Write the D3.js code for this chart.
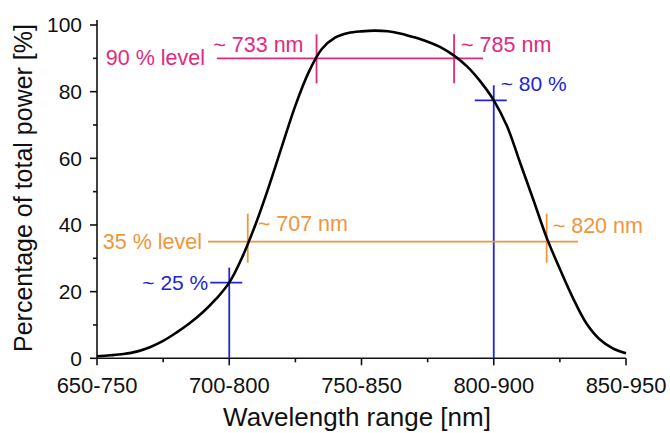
<!DOCTYPE html>
<html>
<head>
<meta charset="utf-8">
<script src="https://cdn.jsdelivr.net/npm/d3@7"></script>
<style>
  html, body { margin: 0; padding: 0; background: #fff; }
  svg { display: block; font-family: "Liberation Sans", Arial, Helvetica, sans-serif; }
</style>
</head>
<body>
<svg id="chart" width="670" height="433"></svg>
<script>
// Start wavelength of each 100 nm window [nm]
const wavelengthStart = [650, 655, 660, 665, 670, 675, 680, 685, 690, 695,
  700, 705, 710, 715, 720, 725, 730, 735, 740, 745,
  750, 755, 760, 765, 770, 775, 780, 785, 790, 795,
  800, 805, 810, 815, 820, 825, 830, 835, 840, 845, 850];
// Share of total power inside that window [%]
const powerPercent = [0.6, 0.9, 1.3, 2.0, 3.3, 5.2, 7.7, 10.5, 13.8, 17.8,
  22.7, 30.5, 40.3, 51.6, 63.8, 75.8, 85.8, 92.8, 96.2, 97.6,
  98.1, 98.3, 98.1, 97.4, 96.3, 95.0, 93.3, 90.8, 87.5, 83.0,
  77.4, 69.7, 58.6, 47.5, 36.2, 26.8, 18.0, 10.5, 5.7, 3.0, 1.5];

// Axis ticks
const xTickValues = [650, 700, 750, 800, 850];
const xTickLabels = ["650-750", "700-800", "750-850", "800-900", "850-950"];
const xMinorTicks = [675, 725, 775, 825];
const yTickValues = [0, 20, 40, 60, 80, 100];
const yMinorTicks = [10, 30, 50, 70, 90];

// Threshold levels and the window starts where the curve crosses them
const levelNames = ["90 % level", "35 % level"];
const levelValues = [90, 35];
const levelLeftNm = [733, 707];
const levelRightNm = [785, 820];
const levelColors = ["#e3287e", "#f0953b"];

// Windows whose share is marked
const markNm = [700, 800];
const markLabels = ["~ 25 %", "~ 80 %"];
const markColor = "#2424d8";

const svg = d3.select("#chart");
const x = d3.scaleLinear().domain([650, 850]).range([97, 626]);
const y = d3.scaleLinear().domain([0, 101.5]).range([358.3, 20]);

const FS = 21.5;

// Axes
const xAxis = svg.append("g").attr("transform", `translate(0,${y(0)})`);
xAxis.append("line").attr("x1", x(650)).attr("x2", x(850)).attr("stroke", "#111").attr("stroke-width", 1.6);
xAxis.selectAll(".maj").data(xTickValues).join("line")
  .attr("x1", d => x(d)).attr("x2", d => x(d)).attr("y1", 0).attr("y2", 7)
  .attr("stroke", "#111").attr("stroke-width", 1.6);
xAxis.selectAll(".min").data(xMinorTicks).join("line")
  .attr("x1", d => x(d)).attr("x2", d => x(d)).attr("y1", 0).attr("y2", 4)
  .attr("stroke", "#111").attr("stroke-width", 1.6);
xAxis.selectAll("text").data(xTickValues).join("text")
  .attr("x", d => x(d)).attr("y", 35).attr("text-anchor", "middle")
  .attr("font-size", 22).attr("fill", "#111")
  .text((d, i) => xTickLabels[i]);

const yAxis = svg.append("g").attr("transform", `translate(${x(650)},0)`);
yAxis.append("line").attr("y1", y(0)).attr("y2", y(101.5)).attr("stroke", "#111").attr("stroke-width", 1.6);
yAxis.selectAll(".maj").data(yTickValues).join("line")
  .attr("y1", d => y(d)).attr("y2", d => y(d)).attr("x1", 0).attr("x2", -7)
  .attr("stroke", "#111").attr("stroke-width", 1.6);
yAxis.selectAll(".min").data(yMinorTicks).join("line")
  .attr("y1", d => y(d)).attr("y2", d => y(d)).attr("x1", 0).attr("x2", -4)
  .attr("stroke", "#111").attr("stroke-width", 1.6);
yAxis.selectAll("text").data(yTickValues).join("text")
  .attr("x", -15).attr("y", d => y(d) + 7.5).attr("text-anchor", "end")
  .attr("font-size", 21).attr("fill", "#111")
  .text(d => d);

// Axis titles
svg.append("text").attr("x", 357).attr("y", 426).attr("text-anchor", "middle")
  .attr("font-size", 26).attr("fill", "#111").text("Wavelength range [nm]");
svg.append("text").attr("transform", "translate(32,188) rotate(-90)").attr("text-anchor", "middle")
  .attr("font-size", 25).attr("fill", "#111").text("Percentage of total power [%]");

// Marked windows (blue)
markNm.forEach((nm, i) => {
  const v = powerPercent[wavelengthStart.indexOf(nm)];
  const g = svg.append("g").attr("stroke", markColor).attr("stroke-width", 1.8);
  g.append("line").attr("x1", x(nm)).attr("x2", x(nm)).attr("y1", y(0)).attr("y2", y(v) - 15);
  g.append("line").attr("x1", x(nm) - 19).attr("x2", x(nm) + 13).attr("y1", y(v)).attr("y2", y(v));
});
svg.append("text").attr("x", x(700) - 21).attr("y", y(powerPercent[wavelengthStart.indexOf(700)]) + 7)
  .attr("text-anchor", "end").attr("font-size", 21).attr("fill", markColor).text(markLabels[0]);
svg.append("text").attr("x", x(800) + 7).attr("y", y(powerPercent[wavelengthStart.indexOf(800)]) - 9)
  .attr("font-size", 21).attr("fill", markColor).text(markLabels[1]);

// Threshold levels
const levelLine = [[217, 483], [208, 578]];
const nameGap = [12, 6];
const barUp = [24, 28];
const barDown = [25, 21];
levelValues.forEach((lv, i) => {
  const g = svg.append("g").attr("stroke", levelColors[i]).attr("stroke-width", 1.8);
  const yy = y(lv);
  g.append("line").attr("x1", levelLine[i][0]).attr("x2", levelLine[i][1]).attr("y1", yy).attr("y2", yy);
  [levelLeftNm[i], levelRightNm[i]].forEach(nm => {
    g.append("line").attr("x1", x(nm)).attr("x2", x(nm)).attr("y1", yy - barUp[i]).attr("y2", yy + barDown[i]);
  });
  svg.append("text").attr("x", levelLine[i][0] - nameGap[i]).attr("y", yy + 7).attr("text-anchor", "end")
    .attr("font-size", FS).attr("fill", levelColors[i]).text(levelNames[i]);
});
// Crossing wavelengths
svg.append("text").attr("x", x(levelLeftNm[0]) - 13).attr("y", y(90) - 6).attr("text-anchor", "end")
  .attr("font-size", FS).attr("fill", levelColors[0]).text(`~ ${levelLeftNm[0]} nm`);
svg.append("text").attr("x", x(levelRightNm[0]) + 7).attr("y", y(90) - 6)
  .attr("font-size", FS).attr("fill", levelColors[0]).text(`~ ${levelRightNm[0]} nm`);
svg.append("text").attr("x", x(levelLeftNm[1]) + 10).attr("y", y(35) - 11)
  .attr("font-size", FS).attr("fill", levelColors[1]).text(`~ ${levelLeftNm[1]} nm`);
svg.append("text").attr("x", x(levelRightNm[1]) + 6).attr("y", y(35) - 9)
  .attr("font-size", FS).attr("fill", levelColors[1]).text(`~ ${levelRightNm[1]} nm`);

// Power curve
const line = d3.line()
  .x((d, i) => x(wavelengthStart[i]))
  .y(d => y(d))
  .curve(d3.curveCatmullRom.alpha(0.5));
svg.append("path").datum(powerPercent).attr("d", line)
  .attr("fill", "none").attr("stroke", "#000").attr("stroke-width", 2.6);
</script>
</body>
</html>
